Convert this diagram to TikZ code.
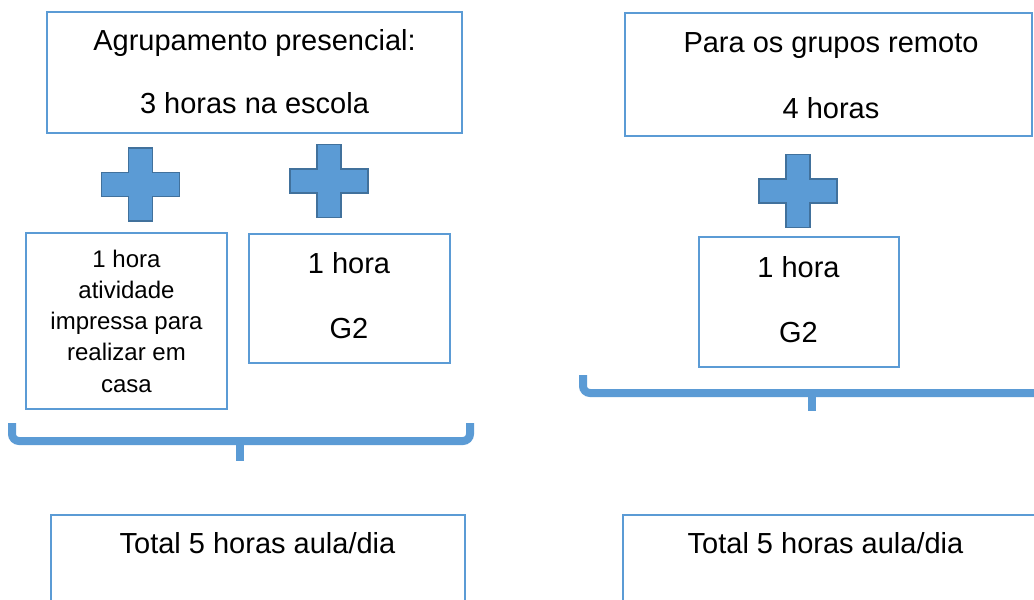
\documentclass[tikz,border=0pt]{standalone}
\usepackage{fontspec}
\setmainfont{Liberation Sans}
\definecolor{offblue}{HTML}{5B9BD5}
\definecolor{plusedge}{HTML}{41719C}
\begin{document}
\begin{tikzpicture}[x=1pt,y=-1pt,
  box/.style={draw=offblue, line width=1.6pt, inner sep=0pt, rectangle},
  bigtxt/.style={font=\fontsize{29}{65}\selectfont, align=center, anchor=base, inner sep=0pt},
  smalltxt/.style={font=\fontsize{24}{31.25}\selectfont, align=center, anchor=base, inner sep=0pt},
  bracestyle/.style={draw=offblue, line width=8pt, rounded corners=7pt},
  plusshape/.style={fill=offblue, draw=plusedge, line width=1.6pt},
  plus/.pic={\draw[plusshape] (-12,-36.5) -- (12,-36.5) -- (12,-12) -- (39,-12) -- (39,12) -- (12,12) -- (12,36.5) -- (-12,36.5) -- (-12,12) -- (-39,12) -- (-39,-12) -- (-12,-12) -- cycle;}
]
\useasboundingbox (0,0) rectangle (1034,600);
\clip (0,0) rectangle (1034,600);
\fill[white] (0,0) rectangle (1034,600);

% top boxes
\node[box, minimum width=415pt, minimum height=121pt] (pres) at (254.5,72.5) {};
\node[bigtxt, font=\fontsize{29}{63}\selectfont] (prestxt) at (254.5,113) {Agrupamento presencial:\\3 horas na escola};
\node[box, minimum width=407pt, minimum height=123pt] (rem) at (828.5,74.5) {};
\node[bigtxt, font=\fontsize{29}{66}\selectfont] (remtxt) at (831,118) {Para os grupos remoto\\4 horas};

% plus signs
\pic (plusA) at (140.5,184.5) {plus};
\pic (plusB) at (329,181) {plus};
\pic (plusC) at (798,191) {plus};

% middle boxes
\node[box, minimum width=201pt, minimum height=176pt] (ativ) at (126.5,321) {};
\node[smalltxt] (ativtxt) at (126.5,392) {1 hora\\atividade\\impressa para\\realizar em\\casa};
\node[box, minimum width=201pt, minimum height=129pt] (gA) at (349.5,298.5) {};
\node[bigtxt] (gAtxt) at (349,338) {1 hora\\G2};
\node[box, minimum width=200pt, minimum height=130pt] (gB) at (799,302) {};
\node[bigtxt] (gBtxt) at (798.5,342) {1 hora\\G2};

% braces
\coordinate (lbA) at (12,423);
\coordinate (lbB) at (470,423);
\coordinate (lbT) at (240,461);
\draw[bracestyle] (lbA) -- (12,441) -- (470,441) -- (lbB);
\draw[draw=offblue, line width=8pt] (240,441) -- (lbT);
\coordinate (rbA) at (583,375);
\coordinate (rbT) at (812,411);
\draw[bracestyle] (rbA) -- (583,393) -- (1045,393);
\draw[draw=offblue, line width=8pt] (812,393) -- (rbT);

% bottom boxes
\node[box, minimum width=414pt, minimum height=130pt] (totA) at (258,580) {};
\node[bigtxt] (totAtxt) at (257.5,553) {Total 5 horas aula/dia};
\node[box, minimum width=430pt, minimum height=130pt] (totB) at (838,580) {};
\node[bigtxt] (totBtxt) at (825.5,553) {Total 5 horas aula/dia};
\end{tikzpicture}
\end{document}
